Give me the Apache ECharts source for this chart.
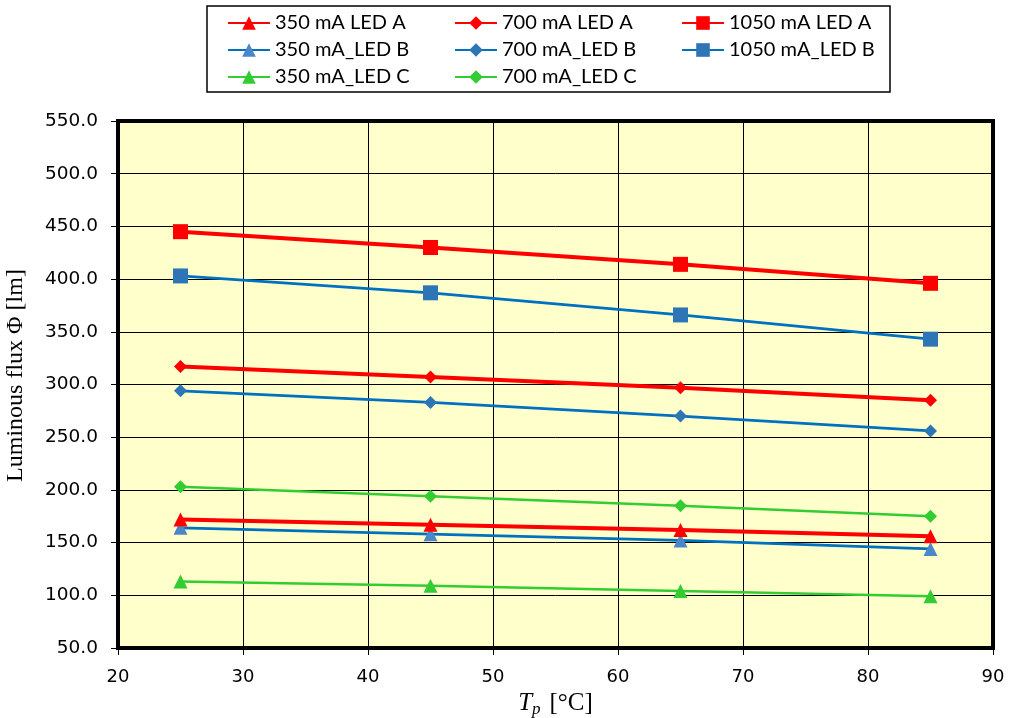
<!DOCTYPE html>
<html>
<head>
<meta charset="utf-8">
<script src="https://cdn.jsdelivr.net/npm/echarts@6/dist/echarts.min.js"></script>
<style>html,body{margin:0;padding:0;background:#fff;}#c{width:1021px;height:718px;}</style>
</head>
<body>
<div id="c"></div>
<script>
const temps = [25, 45, 65, 85];
const seriesNames = ['350 mA LED A','350 mA_LED B','350 mA_LED C','700 mA LED A','700 mA_LED B','700 mA_LED C','1050 mA LED A','1050 mA_LED B'];
const v350A = [172, 167, 162, 156];
const v350B = [164, 158, 152, 144];
const v350C = [113, 109, 104, 99];
const v700A = [317, 307, 297, 285];
const v700B = [294, 283, 270, 256];
const v700C = [203, 194, 185, 175];
const v1050A = [445, 430, 414, 396];
const v1050B = [403, 387, 366, 343];
const xTicks = [20, 30, 40, 50, 60, 70, 80, 90];
const yTicks = [50, 100, 150, 200, 250, 300, 350, 400, 450, 500, 550];

const RED = '#FF0000', BLUE = '#0070C0', BLUEM = '#2E75B6', BLUET = '#4A86C8', GREEN = '#33CC33';
function mk(name, vals, lineColor, markColor, symbol, size, width) {
  return {
    name, type: 'line', data: temps.map((t, i) => [t, vals[i]]),
    symbol, symbolSize: size, showSymbol: true,
    lineStyle: { color: lineColor, width },
    itemStyle: { color: markColor },
    emphasis: { disabled: true }, z: 3
  };
}
const series = [
  mk(seriesNames[2], v350C, GREEN, GREEN, 'triangle', 14, 2.5),
  mk(seriesNames[1], v350B, BLUE, BLUET, 'triangle', 14, 2.75),
  mk(seriesNames[0], v350A, RED, RED, 'triangle', 14, 4),
  mk(seriesNames[5], v700C, GREEN, GREEN, 'diamond', 13, 2.5),
  mk(seriesNames[4], v700B, BLUE, BLUEM, 'diamond', 13, 2.75),
  mk(seriesNames[3], v700A, RED, RED, 'diamond', 13, 4),
  mk(seriesNames[7], v1050B, BLUE, BLUEM, 'rect', 15, 2.75),
  mk(seriesNames[6], v1050A, RED, RED, 'rect', 15, 4)
];
const legendBase = {
  orient: 'vertical', top: 12, padding: 0, itemWidth: 42, itemHeight: 17, itemGap: 5,
  textStyle: { fontFamily: 'Lato', fontSize: 20, color: '#000', lineHeight: 22 },
  selectedMode: false
};
const chart = echarts.init(document.getElementById('c'), null, { renderer: 'canvas' });
chart.setOption({
  animation: false,
  backgroundColor: '#fff',
  graphic: [{ type: 'rect', shape: { x: 207, y: 6, width: 683, height: 86 }, style: { fill: 'none', stroke: '#000', lineWidth: 1.5 }, z: 0 }],
  legend: [
    Object.assign({}, legendBase, { left: 227, data: [seriesNames[0], seriesNames[1], seriesNames[2]] }),
    Object.assign({}, legendBase, { left: 454, data: [seriesNames[3], seriesNames[4], seriesNames[5]] }),
    Object.assign({}, legendBase, { left: 681, data: [seriesNames[6], seriesNames[7]] })
  ],
  grid: { left: 118, right: 28, top: 121, bottom: 70, containLabel: false, outerBoundsMode: 'none', show: true, backgroundColor: '#FFFFCC', borderColor: '#000', borderWidth: 4 },
  xAxis: {
    type: 'value', min: xTicks[0], max: xTicks[xTicks.length - 1], interval: 10,
    name: '{i|T}{s|p}{g| }{n|[°C]}', nameLocation: 'middle', nameGap: 37,
    nameTextStyle: { rich: {
      i: { fontFamily: 'Liberation Serif', fontStyle: 'italic', fontSize: 25, lineHeight: 30, color: '#000' },
      s: { fontFamily: 'Liberation Serif', fontStyle: 'italic', fontSize: 17, lineHeight: 20, verticalAlign: 'bottom', color: '#000' },
      g: { fontFamily: 'Liberation Serif', fontSize: 25, lineHeight: 30, color: '#000', width: 9 },
      n: { fontFamily: 'Liberation Serif', fontSize: 25, lineHeight: 30, color: '#000' }
    } },
    axisLine: { show: true, lineStyle: { color: '#000', width: 4 } },
    axisTick: { show: true, length: 7, lineStyle: { color: '#000', width: 1 } },
    axisLabel: { fontFamily: 'DejaVu Sans', fontSize: 18, color: '#000', margin: 20 },
    splitLine: { show: true, lineStyle: { color: '#000', width: 1 } }
  },
  yAxis: {
    type: 'value', min: yTicks[0], max: yTicks[yTicks.length - 1], interval: 50,
    name: 'Luminous flux Φ [lm]', nameLocation: 'middle', nameGap: 90, nameRotate: 90,
    nameTextStyle: { fontFamily: 'Liberation Serif', fontSize: 24, color: '#000', padding: [0, 0, 0, 18] },
    axisLine: { show: true, lineStyle: { color: '#000', width: 4 } },
    axisTick: { show: true, length: 7, lineStyle: { color: '#000', width: 1 } },
    axisLabel: { fontFamily: 'DejaVu Sans', fontSize: 18.5, color: '#000', margin: 20, formatter: v => v.toFixed(1) },
    splitLine: { show: true, lineStyle: { color: '#000', width: 1 } }
  },
  series
});
</script>
</body>
</html>
